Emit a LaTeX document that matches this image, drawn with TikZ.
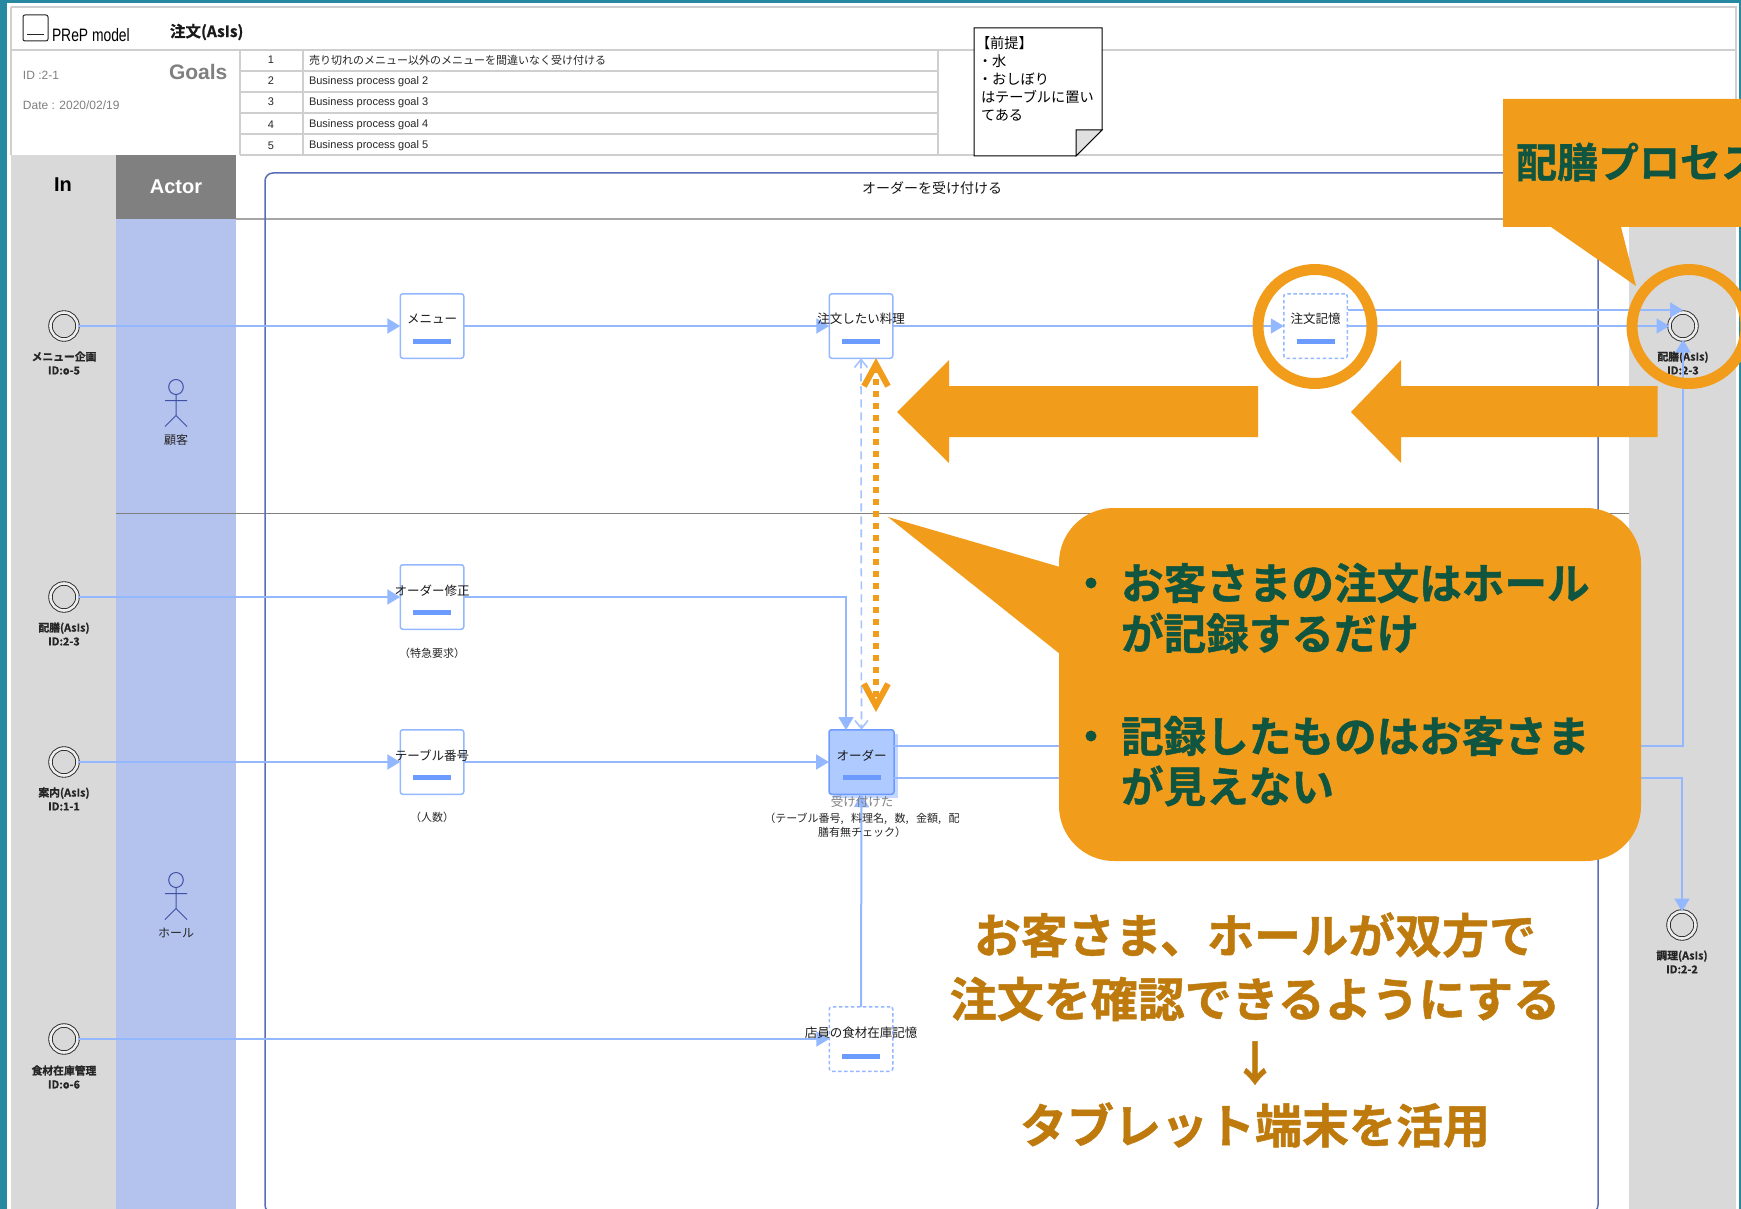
\documentclass[tikz,border=0pt]{standalone}
\usepackage{fontspec}
\usetikzlibrary{arrows.meta}
\setmainfont{Noto Sans CJK JP}[BoldFont={Noto Sans CJK JP Bold}]
\newfontfamily\lat{Liberation Sans}
\newfontfamily\heavy{Noto Sans CJK JP Bold}[FakeBold=1]
\definecolor{teal0}{HTML}{2788A2}
\definecolor{hline}{HTML}{CFCFCF}
\definecolor{colgray}{HTML}{D9D9D9}
\definecolor{actblue}{HTML}{B4C2EE}
\definecolor{hdrgray}{HTML}{808080}
\definecolor{grp}{HTML}{5A6DB8}
\definecolor{flow}{HTML}{94B8FF}
\definecolor{bar}{HTML}{6C9BFF}
\definecolor{orng}{HTML}{F29C1B}
\definecolor{dgreen}{HTML}{0F5540}
\definecolor{brown0}{HTML}{BE7A0C}
\definecolor{stick}{HTML}{3F51A8}
\newcommand{\fs}[1]{\fontsize{#1}{#1}\selectfont}
\tikzset{
  every node/.style={inner sep=0pt,outer sep=0pt},
  pbox/.style={draw=flow,fill=white,line width=1.5pt,rounded corners=2.5pt,minimum width=63.5pt,minimum height=64.5pt},
  dbox/.style={dash pattern=on 3.5pt off 2.5pt},
  ptext/.style={font=\fs{12.5},text=black!90},
  pbar/.style={fill=bar,minimum width=38pt,minimum height=5pt},
  flowline/.style={draw=flow,line width=2pt,-{Triangle[length=13pt,width=15pt]}},
  ev/.style={circle,draw=black!85,line width=.9pt,double=white!55!colgray,double distance=2.6pt,fill=colgray,minimum size=27pt},
  evlab/.style={font=\heavy\fs{10.8},text=black!85,align=center},
  sub/.style={font=\fs{11},text=black!85,align=center},
  tabt/.style={font=\fs{11},text=black!85,anchor=west},
  tabn/.style={font=\lat\fs{11},text=black!85},
  tablat/.style={font=\lat\fs{11},text=black!85,anchor=west},
  tl/.style={draw=hline,line width=1.5pt},
  notet/.style={font=\fs{14.2},anchor=west,text=black},
  bigt/.style={font=\heavy\fs{42.6},text=dgreen,anchor=west},
  brownt/.style={font=\heavy\fs{47},text=brown0},
  ring/.style={draw=orng,line width=11pt},
}
\newcommand{\actor}[3]{%
  \draw[stick,line width=1pt] (#1,#2) ellipse (7.3 and 7.5);
  \draw[stick,line width=1pt] (#1,#2+7.5) -- (#1,#2+28.5) (#1-11,#2+13.5) -- (#1+11,#2+13.5)
     (#1-11,#2+39.5) -- (#1,#2+28.5) -- (#1+11,#2+39.5);
  \node[font=\fs{12},text=black!85] at (#1,#2+53) {#3};
}
\begin{document}
\begin{tikzpicture}[x=1pt,y=-1pt]
\clip (0,0) rectangle (1741,1209);
\fill[white] (0,0) rectangle (1741,1209);
% page frame
\fill[teal0] (0,0) rectangle (1741,3);
\fill[teal0] (0,0) rectangle (7,1209);
\fill[teal0] (1739,0) rectangle (1741,1209);
% columns
\fill[colgray] (11,155) rectangle (116,1209);
\fill[hdrgray] (116,155) rectangle (236,219);
\fill[actblue] (116,219) rectangle (236,1209);
\fill[colgray] (1629,155) rectangle (1736,1209);
% header lines
\draw[tl] (11,7) -- (1736,7) -- (1736,155);
\draw[tl] (11,7) -- (11,155);
\draw[tl] (11,50) -- (1736,50);
\draw[tl] (240,155) -- (1629,155);
\draw[tl] (240,50) -- (240,155) (303,50) -- (303,155) (938,50) -- (938,155);
\draw[tl] (240,71) -- (938,71) (240,92) -- (938,92) (240,113) -- (938,113) (240,134) -- (938,134);
% title
\draw[black!85,line width=1pt,rounded corners=2pt] (23,15) rectangle (48,41);
\draw[black!85,line width=1pt] (27,35) -- (44,35);
\node[font=\lat\fs{18},xscale=.77,anchor=west,text=black] (prep) at (52,35) {PReP model};
\node[font=\heavy\fs{15.5},anchor=west,text=black!90] (ttl) at (170,32) {注文(AsIs)};
\node[font=\lat\fs{12},anchor=west,text=hdrgray] (idt) at (23,75) {ID :2-1};
\node[font=\lat\fs{12},anchor=west,text=hdrgray] (dt) at (23,105) {Date : 2020/02/19};
\node[font=\lat\bfseries\fs{21},text=hdrgray,anchor=west] (goals) at (169,72) {Goals};
\node[tabn] (n1) at (271,60) {1};
\node[tabn] (n2) at (271,81) {2};
\node[tabn] (n3) at (271,102) {3};
\node[tabn] (n4) at (271,124.5) {4};
\node[tabn] (n5) at (271,145.5) {5};
\node[tabt] (g1) at (309,60) {売り切れのメニュー以外のメニューを間違いなく受け付ける};
\node[tablat] (g2) at (309,82) {Business process goal 2};
\node[tablat] (g3) at (309,103) {Business process goal 3};
\node[tablat] (g4) at (309,125) {Business process goal 4};
\node[tablat] (g5) at (309,146) {Business process goal 5};
% note
\draw[black,line width=1pt,fill=white] (974,28) -- (1102,28) -- (1102,130) -- (1076,156) -- (974,156) -- cycle;
\draw[black,line width=1pt,fill=black!12] (1102,130) -- (1076,130) -- (1076,156) -- cycle;
\node[notet] (p1) at (976,43) {【前提】};
\node[notet] (p2) at (978,61) {・水};
\node[notet] (p3) at (978,79) {・おしぼり};
\node[notet] (p4) at (981,97) {はテーブルに置い};
\node[notet] (p5) at (981,115) {てある};
% column titles
\node[font=\lat\bfseries\fs{20},text=black] (inh) at (63,185) {In};
\node[font=\lat\bfseries\fs{20},text=white] (acth) at (176,187) {Actor};
% separators and group
\draw[line width=1.5pt,draw=black!35] (236,219) -- (1629,219);
\draw[line width=1pt,draw=black!50] (116,513) -- (1629,513);
\draw[grp,line width=1.5pt,rounded corners=8pt] (265,173) rectangle (1598,1213);
\node[font=\fs{14},text=black!90] (grpt) at (932,188) {オーダーを受け付ける};
% actors
\actor{176}{387}{顧客}
\actor{176}{880}{ホール}
% events
\node[ev] (e1) at (64,326) {};
\node[ev] (e2) at (64,597) {};
\node[ev] (e3) at (64,762) {};
\node[ev] (e4) at (64,1039) {};
\node[ev] (serv) at (1683,326) {};
\node[ev] (kit) at (1682,925) {};
\node[evlab] (e1l) at (64,363) {メニュー企画\\[3pt]ID:o-5};
\node[evlab] (e2l) at (64,634) {配膳(AsIs)\\[3pt]ID:2-3};
\node[evlab] (e3l) at (64,799) {案内(AsIs)\\[3pt]ID:1-1};
\node[evlab] (e4l) at (64,1077) {食材在庫管理\\[3pt]ID:o-6};
\node[evlab] (servl) at (1683,363) {配膳(AsIs)\\[3pt]ID:2-3};
\node[evlab] (kitl) at (1682,962) {調理(AsIs)\\[3pt]ID:2-2};
% boxes
\node[pbox] (menu) at (432,326) {};
\node[pbox] (want) at (861,326) {};
\node[pbox,dbox] (memo) at (1315.5,326) {};
\node[pbox] (mod) at (432,597) {};
\node[pbox] (tbl) at (432,762) {};
\node[pbox,dbox] (stock) at (861,1039) {};
\fill[flow!55!white] (833,734) rectangle (898,798);
\node[pbox,draw=bar,fill=flow!75!white,minimum width=65pt] (order) at (861.5,762) {};
% connector ends
\coordinate (ordtop) at (846,730);
\coordinate (memoU) at (1347.5,310);
\coordinate (servU) at (1683,310);
\coordinate (ordU) at (894,746);
\coordinate (ordL) at (894,778);
% connectors
\draw[flowline] (e1.east) -- (menu.west);
\draw[flowline] (menu.east) -- (want.west);
\draw[flowline] (want.east) -- (memo.west);
\draw[flowline] (memoU) -- (servU);
\draw[flowline] (memo.east) -- (serv.west);
\draw[flowline] (e2.east) -- (mod.west);
\draw[flowline] (e3.east) -- (tbl.west);
\draw[flowline] (tbl.east) -- (order.west);
\draw[flowline] (mod.east) -| (ordtop);
\draw[flowline] (e4.east) -- (stock.west);
\draw[flowline] (stock.north) -- (order.south);
\draw[flowline] (ordU) -| (serv.south);
\draw[flowline] (ordL) -| (kit.north);
\draw[draw=flow!85!white,line width=1.6pt,dash pattern=on 8pt off 5pt,{Straight Barb[length=8pt,width=13pt]}-{Straight Barb[length=8pt,width=13pt]}] (want.south) -- (order.north);
% box contents
\node[ptext] (menut) at (432,318.5) {メニュー};
\node[pbar] (menub) at (432,341.5) {};
\node[ptext] (wantt) at (861,318.5) {注文したい料理};
\node[pbar] (wantb) at (861,341.5) {};
\node[ptext] (memot) at (1315.5,318.5) {注文記憶};
\node[pbar] (memob) at (1315.5,341.5) {};
\node[ptext] (modt) at (432,590.5) {オーダー修正};
\node[pbar] (modb) at (432,612.5) {};
\node[ptext] (tblt) at (432,755.5) {テーブル番号};
\node[pbar] (tblb) at (432,777.5) {};
\node[ptext] (ordt) at (861.5,755.5) {オーダー};
\node[pbar] (ordb) at (862,777.5) {};
\node[ptext] (stockt) at (861,1032.5) {店員の食材在庫記憶};
\node[pbar] (stockb) at (861,1056) {};
\node[sub] (mods) at (432,653) {（特急要求）};
\node[sub] (tbls) at (432,817) {（人数）};
\node[ptext,text=hdrgray] (ords) at (862,802) {受け付けた};
\node[sub] (ordd) at (862,825.5) {（テーブル番号,\hspace{5pt} 料理名,\hspace{5pt} 数,\hspace{5pt} 金額,\hspace{5pt} 配\\[1pt]膳有無チェック）};
% orange emphasis
\coordinate (dU) at (876,358);
\coordinate (dD) at (876,712);
\draw[orng,line width=6pt,dash pattern=on 6pt off 6pt,{Straight Barb[length=22pt,width=24pt]}-{Straight Barb[length=22pt,width=24pt]}] (dU) -- (dD);
\draw[ring] (1315,326.5) circle (57);
\draw[ring] (1689,326.5) circle (57);
\fill[orng] (1258,386) -- (949,386) -- (949,360) -- (897,412) -- (949,463) -- (949,437) -- (1258,437) -- cycle;
\fill[orng] (1657.5,386) -- (1401,386) -- (1401,360) -- (1351,412) -- (1401,463) -- (1401,437) -- (1657.5,437) -- cycle;
\fill[orng] (1503,99) -- (1760,99) -- (1760,227) -- (1621,227) -- (1636,286) -- (1551,227) -- (1503,227) -- cycle;
\node[font=\heavy\fs{41},text=dgreen,anchor=west] (ct) at (1516,162) {配膳プロセス};
\fill[orng,rounded corners=55pt] (1059,508) rectangle (1641,861);
\fill[orng] (888,517) -- (1060,567) -- (1060,654) -- cycle;
\fill[dgreen] (1091,583) circle (5.5);
\fill[dgreen] (1091,736) circle (5.5);
\node[bigt] (c1) at (1121,583) {お客さまの注文はホール};
\node[bigt] (c2) at (1121,633) {が記録するだけ};
\node[bigt] (c3) at (1121,736) {記録したものはお客さま};
\node[bigt] (c4) at (1121,786) {が見えない};
\node[brownt] (b1) at (1255,935) {お客さま、ホールが双方で};
\node[brownt] (b2) at (1255,999) {注文を確認できるようにする};
\node[brownt] (b3) at (1255,1063) {↓};
\node[brownt] (b4) at (1255,1125) {タブレット端末を活用};
\end{tikzpicture}
\end{document}
